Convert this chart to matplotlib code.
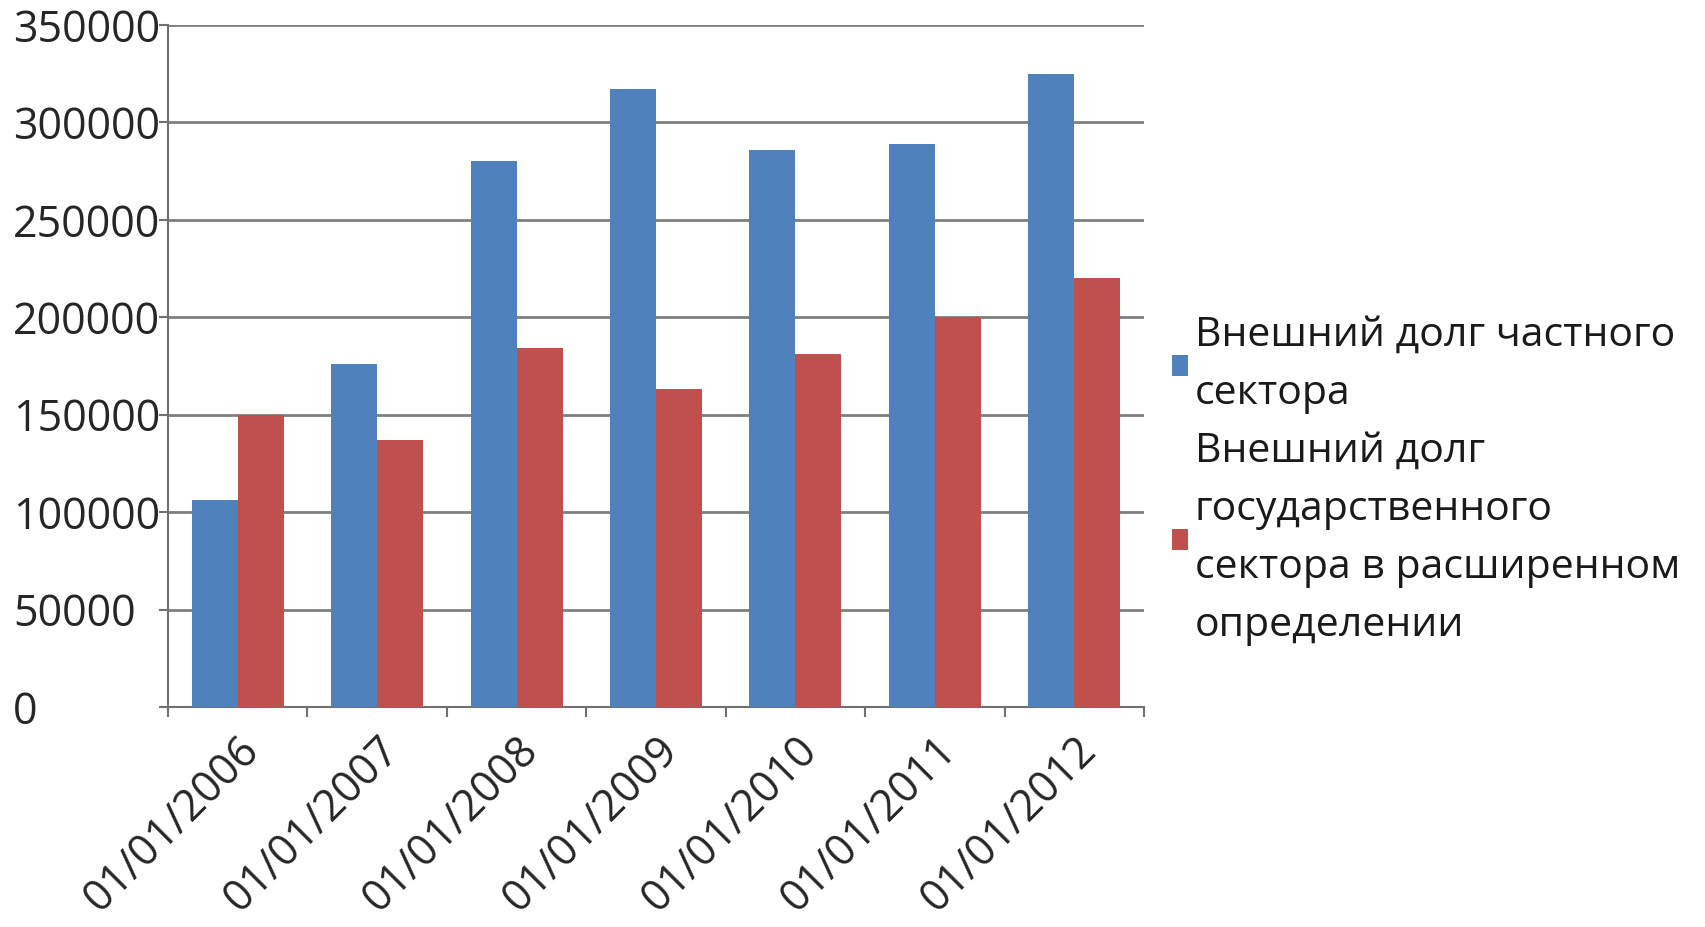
"""External debt bar chart"""

from matplotlib import pyplot as plt
import numpy as np


dates = ['01/01/2006', '01/01/2007', '01/01/2008', '01/01/2009',
         '01/01/2010', '01/01/2011', '01/01/2012']
private_debt = [106000, 176000, 280000, 317000, 286000, 289000, 325000]
public_debt = [150000, 137000, 184000, 163000, 181000, 200000, 220000]
series_names = ['Внешний долг частного\nсектора',
                'Внешний долг\nгосударственного\nсектора в расширенном\nопределении']
y_ticks = [0, 50000, 100000, 150000, 200000, 250000, 300000, 350000]

plt.rcParams['font.family'] = ['Open Sans', 'DejaVu Sans']


def generate_plot():
    """Draw the chart and save it"""
    fig = plt.figure(figsize=(17.05, 9.27), dpi=100)
    ax = fig.add_axes([168 / 1705, 1 - 707 / 927, 976 / 1705, 682 / 927])
    x = np.arange(len(dates))
    width = 0.33
    b1 = ax.bar(x - width / 2, private_debt, width, color='#4F81BD',
                label=series_names[0], zorder=3)
    b2 = ax.bar(x + width / 2, public_debt, width, color='#C0504D',
                label=series_names[1], zorder=3)
    ax.set_xlim(-0.5, len(dates) - 0.5)
    ax.set_ylim(0, 350000)
    ax.set_yticks(y_ticks)
    ax.set_yticklabels([str(v) for v in y_ticks], fontsize=31,
                       color='#262626', ha='left')
    ax.set_xticks(x)
    ax.set_xticklabels(dates, rotation=45, ha='right',
                       rotation_mode='anchor', fontsize=31, color='#262626')
    ax.set_xticks(np.arange(-0.5, len(dates)), minor=True)
    ax.tick_params(axis='x', which='major', length=0, pad=15)
    ax.tick_params(axis='x', which='minor', length=7, width=1.5,
                   color='#707070')
    # labels sit flush left, as in the original
    ax.tick_params(axis='y', length=6.5, width=1.5, color='#707070',
                   pad=105)
    ax.grid(axis='y', color='#7f7f7f', linewidth=2, zorder=0)
    for side in ['top', 'right']:
        ax.spines[side].set_visible(False)
    for side in ['left', 'bottom']:
        ax.spines[side].set_color('#707070')
        ax.spines[side].set_linewidth(1.5)
    leg = fig.legend(handles=[b1, b2], loc='center left',
                     bbox_to_anchor=(1172 / 1705, 1 - 481 / 927),
                     frameon=False, fontsize=29.5, handlelength=0.4,
                     handleheight=0.4, handletextpad=0.15, labelspacing=0.42,
                     borderaxespad=0, borderpad=0)
    for t in leg.get_texts():
        t.set_linespacing(1.58)
        t.set_color('#1a1a1a')
    fig.savefig('out.png', dpi=100, facecolor='white')


if __name__ == '__main__':
    generate_plot()
